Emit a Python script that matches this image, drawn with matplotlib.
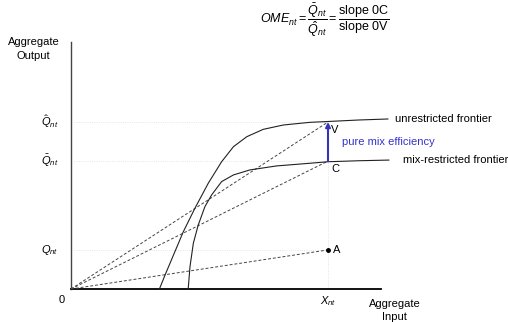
import matplotlib
matplotlib.use("Agg")
import matplotlib.pyplot as plt

plt.rcParams['font.family'] = ['Liberation Sans', 'DejaVu Sans']
plt.rcParams['mathtext.fontset'] = 'custom'
plt.rcParams['mathtext.rm'] = 'Liberation Sans'
plt.rcParams['mathtext.it'] = 'Liberation Sans:italic'
plt.rcParams['mathtext.bf'] = 'Liberation Sans:bold'

# values (x: aggregate input, y: aggregate output)
x_nt = 10.0
q_hat = 10.0
q_bar = 7.66
q_obs = 2.34

unres_x = [3.44, 3.66, 4.37, 4.82, 5.34, 5.86, 6.32, 6.84, 7.48, 8.26, 9.30, 10.0, 11.2, 12.33]
unres_y = [0.0, 0.84, 3.43, 4.83, 6.33, 7.62, 8.52, 9.12, 9.56, 9.82, 9.98, 10.03, 10.12, 10.18]

mix_x = [4.56, 4.63, 4.76, 4.95, 5.21, 5.47, 5.86, 6.32, 6.96, 8.00, 9.30, 10.0, 11.2, 12.37]
mix_y = [0.0, 1.34, 2.74, 3.83, 4.93, 5.63, 6.43, 6.83, 7.13, 7.37, 7.53, 7.62, 7.68, 7.72]

fig = plt.figure(figsize=(5.08, 3.22), dpi=100)
ax = fig.add_axes([0, 0, 1, 1])
ax.set_xlim(-2.763, 17.004)
ax.set_ylim(-1.976, 17.305)
ax.axis('off')

# faint guide lines
guide = dict(color='#dddddd', linewidth=0.6, linestyle=':')
for q in [q_hat, q_bar, q_obs]:
    ax.plot([0.1, x_nt], [q, q], **guide)
ax.plot([x_nt, x_nt], [0, q_hat], **guide)

# axes
ax.plot([0, 0], [0, 14.79], color='#444444', linewidth=1.0)
ax.plot([0, 12.06], [0, 0], color='black', linewidth=1.3)

# rays from origin
for q in [q_hat, q_bar, q_obs]:
    ax.plot([0, x_nt], [0, q], color='#444444', linewidth=0.7, linestyle=(0, (3, 2)))

# frontiers
ax.plot(unres_x, unres_y, color='#222222', linewidth=0.8)
ax.plot(mix_x, mix_y, color='#222222', linewidth=0.8)

# pure mix efficiency arrow
ax.annotate('', xy=(x_nt, q_hat), xytext=(x_nt, q_bar),
            arrowprops=dict(arrowstyle='-|>', color='#3333bb', lw=1.5,
                            mutation_scale=7, shrinkA=0, shrinkB=0))
ax.text(x_nt + 0.55, (q_hat + q_bar) / 2 - 0.05, 'pure mix efficiency', color='#3333cc',
        fontsize=8, va='center', ha='left')

ax.plot([x_nt], [q_obs], 'o', color='black', markersize=2.5)

fs = 8
ax.text(x_nt + 0.12, q_hat - 0.45, 'V', fontsize=fs, va='center', ha='left')
ax.text(x_nt + 0.12, q_bar - 0.5, 'C', fontsize=fs, va='center', ha='left')
ax.text(x_nt + 0.2, q_obs, 'A', fontsize=fs, va='center', ha='left')

ax.text(12.6, 10.2, 'unrestricted frontier', fontsize=fs, va='center', ha='left')
ax.text(12.9, 7.7, 'mix-restricted frontier', fontsize=fs, va='center', ha='left')

# axis labels
ax.text(-1.45, 14.35, 'Aggregate\nOutput', fontsize=fs, ha='center', va='center',
        linespacing=1.5)
ax.text(12.6, -1.3, 'Aggregate\nInput', fontsize=fs, ha='center', va='center',
        linespacing=1.35)

ax.text(-0.35, -0.65, '0', fontsize=fs, ha='center', va='center')
ax.text(x_nt, -0.7, r'$X_{nt}$', fontsize=fs, ha='center', va='center')
ax.text(-0.5, q_hat, r'$\hat{Q}_{nt}$', fontsize=fs, ha='right', va='center')
ax.text(-0.5, q_bar, r'$\bar{Q}_{nt}$', fontsize=fs, ha='right', va='center')
ax.text(-0.5, q_obs, r'$Q_{nt}$', fontsize=fs, ha='right', va='center')

ax.text(9.88, 16.1,
        r'$OME_{nt} = \dfrac{\bar{Q}_{nt}}{\hat{Q}_{nt}} = \dfrac{\mathrm{slope\ 0C}}{\mathrm{slope\ 0V}}$',
        fontsize=9, ha='center', va='center')

fig.savefig('out.png', dpi=100)
